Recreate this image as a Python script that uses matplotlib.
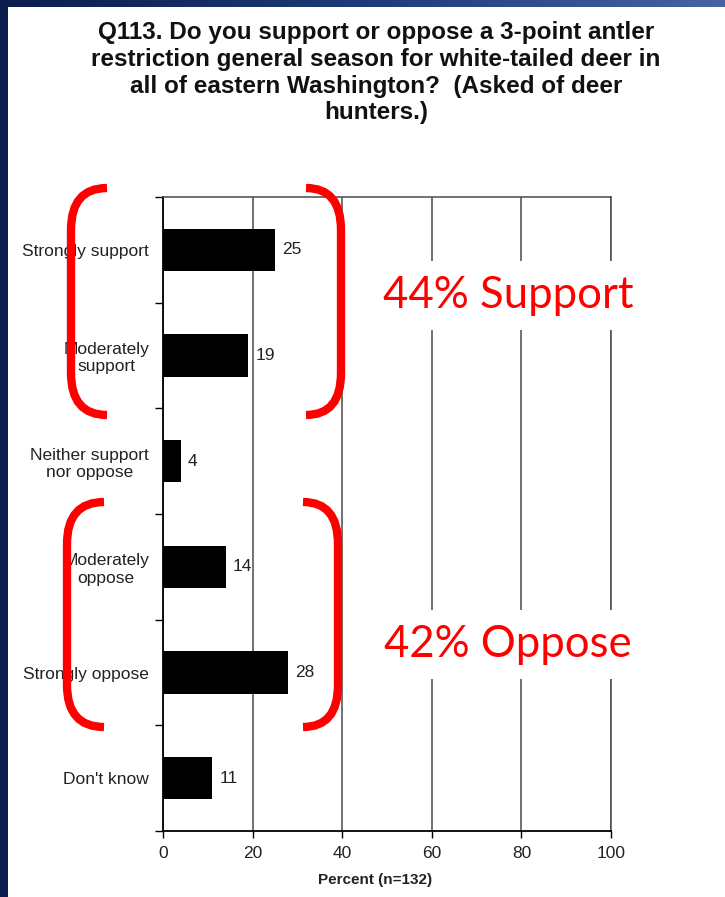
import numpy as np
import matplotlib
matplotlib.use('Agg')
import matplotlib.pyplot as plt
from matplotlib.path import Path
from matplotlib.patches import PathPatch, Rectangle

categories = ['Strongly support', 'Moderately\nsupport', 'Neither support\nnor oppose',
              'Moderately\noppose', 'Strongly oppose', "Don't know"]
percents = [25, 19, 4, 14, 28, 11]
xticks = [0, 20, 40, 60, 80, 100]
title = ('Q113. Do you support or oppose a 3-point antler\n'
         'restriction general season for white-tailed deer in\n'
         'all of eastern Washington?  (Asked of deer\n'
         'hunters.)')
support_label = '44% Support'
oppose_label = '42% Oppose'

W, H = 725, 897
plt.rcParams['font.family'] = ['Liberation Sans', 'DejaVu Sans']

fig = plt.figure(figsize=(W / 100, H / 100), dpi=100)
fig.patch.set_facecolor('#0b1e4b')

# white slide panel and top gradient band
fig.patches.append(Rectangle((8 / W, 0), 1 - 8 / W, 1 - 7 / H, transform=fig.transFigure,
                             facecolor='white', edgecolor='none', zorder=-5))
band = fig.add_axes([0, 1 - 7 / H, 1, 7 / H])
grad = np.linspace(0, 1, 256).reshape(1, -1)
band.imshow(grad, aspect='auto', cmap=matplotlib.colors.LinearSegmentedColormap.from_list(
    'b', ['#0b1e4b', '#1e3a78', '#4564a3']), extent=[0, 1, 0, 1])
band.axis('off')

ax = fig.add_axes([163 / W, 1 - 831 / H, (611 - 163) / W, (831 - 197) / H])
ax.set_facecolor('none')
y = np.arange(len(categories))
ax.barh(y, percents, height=0.4, color='black', zorder=2)
for yi, v in zip(y, percents):
    ax.text(v + 1.6, yi, str(v), va='center', ha='left', fontsize=12.5, color='#222222')

ax.set_xlim(0, 100)
ax.set_ylim(len(categories) - 0.5, -0.5)
ax.set_xticks(xticks)
ax.set_yticks(y)
ax.set_yticklabels(categories, multialignment='center')
ax.set_yticks(np.arange(-0.5, len(categories)), minor=True)
ax.tick_params(axis='y', which='major', length=0, pad=10, labelsize=12.5, labelcolor='#222222')
ax.tick_params(axis='y', which='minor', length=6, width=1, color='black')
ax.tick_params(axis='x', length=5, width=1, pad=6, labelsize=12.5, labelcolor='#222222')
ax.xaxis.grid(True, color='#4a4a4a', linewidth=1.1, zorder=1)
ax.set_axisbelow(True)
ax.set_xlabel('Percent (n=132)', fontsize=11, fontweight='bold', color='#222222')
ax.xaxis.set_label_coords((375 - 163) / 448, -(873 - 831) / 634)
for s in ['left', 'bottom']:
    ax.spines[s].set_color('black')
    ax.spines[s].set_linewidth(1.3)
for s in ['top', 'right']:
    ax.spines[s].set_color('#4a4a4a')
    ax.spines[s].set_linewidth(1.1)

fig.text(376 / W, 1 - 21 / H, title, ha='center', va='top', fontsize=17.5,
         fontweight='bold', color='#111111', linespacing=1.21)


def bracket(x_tip, x_back, y_top, y_bot, r):
    pts = [(x_tip, y_top), (x_back, y_top), (x_back, y_top + r),
           (x_back, y_bot - r), (x_back, y_bot), (x_tip, y_bot)]
    codes = [Path.MOVETO, Path.CURVE3, Path.CURVE3, Path.LINETO, Path.CURVE3, Path.CURVE3]
    verts = [(px / W, 1 - py / H) for px, py in pts]
    fig.patches.append(PathPatch(Path(verts, codes), transform=fig.transFigure,
                                 facecolor='none', edgecolor='#ff0000', linewidth=6,
                                 capstyle='butt', zorder=5))


bracket(107, 71, 188, 415, 42)
bracket(306, 341, 188, 415, 42)
bracket(104, 67, 502, 727, 42)
bracket(303, 338, 502, 727, 42)

box = dict(facecolor='white', edgecolor='none', pad=10)
fig.text(508 / W, 1 - 296 / H, support_label, ha='center', va='center', fontsize=31.5,
         color='#ff0000', family=['Lato', 'DejaVu Sans'], bbox=box, zorder=4)
fig.text(508 / W, 1 - 644 / H, oppose_label, ha='center', va='center', fontsize=31.5,
         color='#ff0000', family=['Lato', 'DejaVu Sans'], bbox=box, zorder=4)

fig.savefig('out.png', dpi=100, facecolor=fig.get_facecolor())
